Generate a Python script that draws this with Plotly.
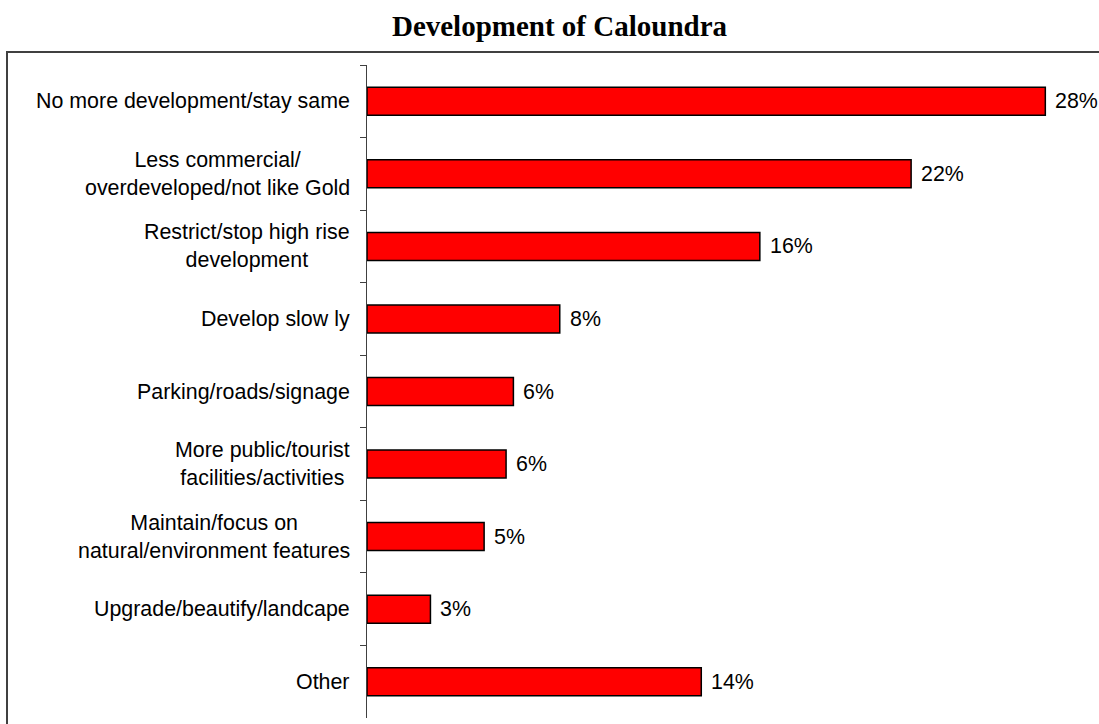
import plotly.graph_objects as go

categories = [
    "No more development/stay same",
    "Less commercial/<br>overdeveloped/not like Gold",
    "Restrict/stop high rise<br>development",
    "Develop slow ly",
    "Parking/roads/signage",
    "More public/tourist<br>facilities/activities",
    "Maintain/focus on<br>natural/environment features",
    "Upgrade/beautify/landcape",
    "Other",
]
values = [27.8, 22.3, 16.1, 7.9, 6.0, 5.7, 4.8, 2.6, 13.7]
value_labels = ["28%", "22%", "16%", "8%", "6%", "6%", "5%", "3%", "14%"]
title_text = "<b>Development of Caloundra</b>"

W, H = 1099, 724
ML, MR, MT, MB = 367, 0, 65, 6

fig = go.Figure()
fig.add_trace(go.Bar(
    y=categories, x=values, orientation="h",
    marker=dict(color="#FF0000", line=dict(color="#000000", width=1.5)),
    hoverinfo="skip",
))

label_font = dict(family="Liberation Sans, Arial, sans-serif", size=21.4, color="#000000")

annotations = []
for c in categories:
    annotations.append(dict(
        x=0, y=c, xref="x", yref="y", text=c, showarrow=False,
        xanchor="right", yanchor="middle", align="center", xshift=-15,
        font=label_font,
    ))
for c, v, t in zip(categories, values, value_labels):
    annotations.append(dict(
        x=v, y=c, xref="x", yref="y", text=t, showarrow=False,
        xanchor="left", yanchor="middle", xshift=8, font=label_font,
    ))

pw = W - ML - MR
ph = H - MT - MB
box_x0 = (7 - ML) / pw
box_y1 = (H - MB - 52) / ph

fig.update_layout(
    width=W, height=H,
    margin=dict(l=ML, r=MR, t=MT, b=MB),
    paper_bgcolor="white", plot_bgcolor="white",
    showlegend=False,
    bargap=0.614,
    title=dict(text=title_text, x=559.5 / W, xanchor="center", xref="container",
               y=1 - 26 / H, yanchor="middle", yref="container",
               font=dict(family="Liberation Serif, Times New Roman, serif", size=29, color="#000000")),
    xaxis=dict(range=[0, 30], visible=False, showgrid=False, zeroline=False, fixedrange=True),
    yaxis=dict(type="category", autorange="reversed", showgrid=False, zeroline=False,
               showline=True, linecolor="#404040", linewidth=1,
               ticks="outside", ticklen=6, tickcolor="#404040", tickwidth=1,
               tickson="boundaries", showticklabels=False, fixedrange=True),
    annotations=annotations,
    shapes=[dict(type="rect", xref="paper", yref="paper",
                 x0=box_x0, x1=1.02, y0=-0.05, y1=box_y1,
                 line=dict(color="#404040", width=2), fillcolor="rgba(0,0,0,0)", layer="below")],
)

fig.write_html("out.html")
